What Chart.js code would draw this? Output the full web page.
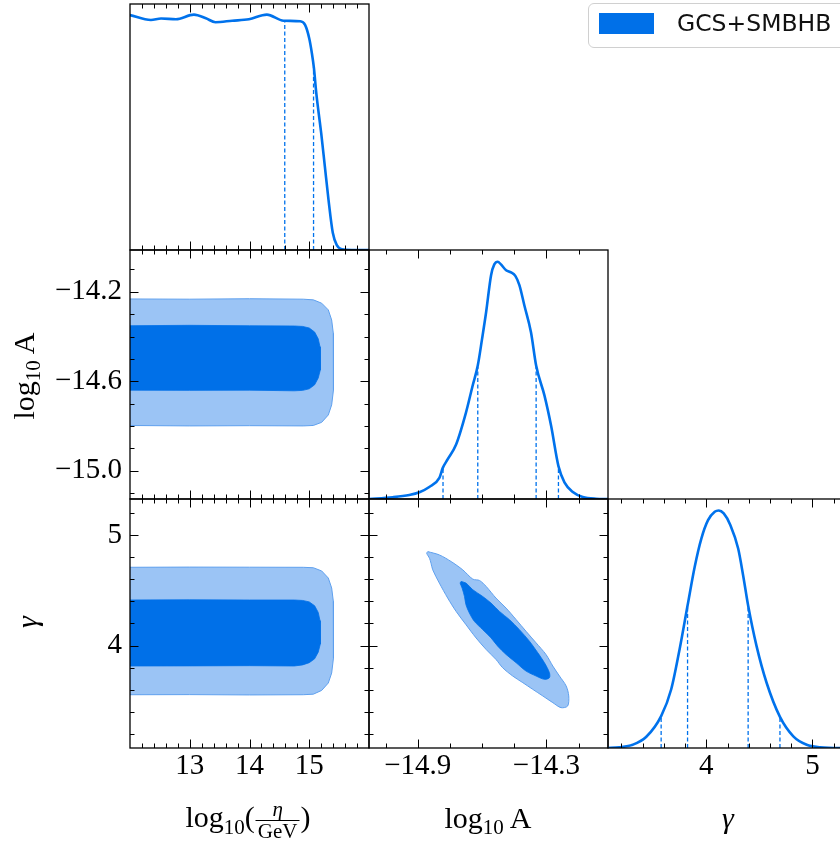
<!DOCTYPE html>
<html>
<head>
<meta charset="utf-8">
<script src="https://cdn.jsdelivr.net/npm/chart.js@4.4.1/dist/chart.umd.min.js"></script>
<style>
  html, body { margin: 0; padding: 0; background: #fff; width: 840px; height: 846px; overflow: hidden; }
  #wrap { position: relative; width: 840px; height: 846px; overflow: hidden; }
  canvas.panel { position: absolute; left: 0; top: 0; }
  .ttl { position: absolute; font-family: "Liberation Serif", serif; font-size: 30px; line-height: 30px; color: #000; white-space: nowrap; }
  .ttl sub { font-size: 0.7em; vertical-align: -0.3em; line-height: 0; }
  .frac { display: inline-block; vertical-align: middle; text-align: center; font-size: 0.7em; line-height: 1; margin: 0 1px; }
  .frac span { display: block; padding: 0 2px; }
  .frac .fn { border-bottom: 1.5px solid #000; }
  .rot { transform: translate(-50%, -50%) rotate(-90deg); }
  .legend { position: absolute; left: 588px; top: 3px; width: 270px; height: 43px; border: 1px solid #d0d0d0; border-radius: 6px; background: rgba(255,255,255,0.8); }
  .legend .patch { position: absolute; left: 10px; top: 9px; width: 55px; height: 21px; }
  .legend .txt { position: absolute; left: 88px; top: 8px; font-family: "DejaVu Sans", sans-serif; font-size: 23.5px; line-height: 23.5px; color: #111; }
</style>
</head>
<body>
<div id="wrap">
  <canvas id="p11" class="panel" width="880" height="846"></canvas>
  <canvas id="p21" class="panel" width="880" height="846"></canvas>
  <canvas id="p31" class="panel" width="880" height="846"></canvas>
  <canvas id="p22" class="panel" width="880" height="846"></canvas>
  <canvas id="p32" class="panel" width="880" height="846"></canvas>
  <canvas id="p33" class="panel" width="880" height="846"></canvas>

  <div class="legend"><div class="patch" id="legPatch"></div><div class="txt">GCS+SMBHB</div></div>

  <div class="ttl" style="left:248px; top:799px; transform:translateX(-50%);">log<sub>10</sub>(<span class="frac"><span class="fn"><i>η</i></span><span>GeV</span></span>)</div>
  <div class="ttl" style="left:488px; top:803px; transform:translateX(-50%);">log<sub>10</sub>&#8201;A</div>
  <div class="ttl" style="left:728px; top:803px; transform:translateX(-50%);"><i>γ</i></div>
  <div class="ttl rot" style="left:23.5px; top:376px;">log<sub>10</sub>&#8201;A</div>
  <div class="ttl rot" style="left:26.5px; top:622px;"><i>γ</i></div>
</div>

<script>
// ---- axis ranges and ticks ----
const etaRange = [12, 16];
const logARange = [-15.127, -14.013];
const gamRange = [3.073, 5.326];

const etaMajor = [13, 14, 15];
const etaMinor = [12.2, 12.4, 12.6, 12.8, 13.2, 13.4, 13.6, 13.8, 14.2, 14.4, 14.6, 14.8, 15.2, 15.4, 15.6, 15.8];
const logAMajorX = [-14.9, -14.3];
const logAMinorX = [-15.05, -14.75, -14.6, -14.45, -14.15];
const logAMajorY = [-15.0, -14.6, -14.2];
const logAMinorY = [-15.1, -14.9, -14.8, -14.7, -14.5, -14.4, -14.3, -14.1];
const gamMajor = [4, 5];
const gamMinor = [3.2, 3.4, 3.6, 3.8, 4.2, 4.4, 4.6, 4.8, 5.2];

// ---- 1D marginals ----
const etaX   = [12.0, 12.35, 12.52, 12.77, 13.07, 13.27, 13.43, 13.71, 13.99, 14.29, 14.57, 14.85, 14.93, 15.0, 15.044, 15.078, 15.117, 15.156, 15.2, 15.261, 15.322, 15.394, 15.461, 15.544, 15.711, 16.0];
const etaPdf = [0.955, 0.935, 0.941, 0.938, 0.957, 0.942, 0.926, 0.932, 0.938, 0.957, 0.932, 0.930, 0.915, 0.86, 0.80, 0.74, 0.64, 0.56, 0.475, 0.34, 0.205, 0.07, 0.02, 0.003, 0, 0];
const etaQ   = [14.59, 15.072];
const etaQH  = [0.932, 0.745];

const logAX   = [-15.13, -15.017, -14.939, -14.892, -14.846, -14.799, -14.783, -14.76, -14.721, -14.675, -14.644, -14.62, -14.6, -14.581, -14.558, -14.543, -14.527, -14.512, -14.488, -14.465, -14.445, -14.426, -14.403, -14.372, -14.348, -14.309, -14.278, -14.244, -14.216, -14.177, -14.131, -14.069, -14.013];
const logAPdf = [0, 0.007, 0.016, 0.027, 0.048, 0.085, 0.125, 0.16, 0.219, 0.347, 0.455, 0.536, 0.643, 0.751, 0.899, 0.942, 0.953, 0.942, 0.919, 0.910, 0.896, 0.859, 0.778, 0.670, 0.536, 0.415, 0.293, 0.132, 0.067, 0.028, 0.008, 0.001, 0];
const logAQ   = [-14.782, -14.62, -14.348, -14.244];
const logAQH  = [0.125, 0.53, 0.53, 0.132];

const gamX   = [3.06, 3.18, 3.306, 3.432, 3.574, 3.669, 3.748, 3.823, 3.890, 3.953, 4.016, 4.079, 4.117, 4.164, 4.227, 4.300, 4.347, 4.394, 4.473, 4.568, 4.694, 4.820, 4.946, 5.073, 5.262, 5.33];
const gamPdf = [0, 0.003, 0.013, 0.044, 0.128, 0.236, 0.397, 0.572, 0.727, 0.841, 0.915, 0.949, 0.954, 0.942, 0.895, 0.801, 0.693, 0.572, 0.41, 0.262, 0.125, 0.047, 0.013, 0.003, 0, 0];
const gamQ   = [3.574, 3.823, 4.394, 4.694];
const gamQH  = [0.128, 0.572, 0.572, 0.128];

// ---- 2D credible regions (outer = 95%, inner = 68%) ----
// log10(eta) vs log10 A
const etaA_outEta = [11.9, 13, 14, 14.9, 15.068, 15.208, 15.319, 15.375, 15.403, 15.408, 15.403, 15.375, 15.319, 15.208, 15.068, 14.9, 14, 13, 11.9, 11.9];
const etaA_outA   = [-14.232, -14.233, -14.231, -14.233, -14.236, -14.251, -14.281, -14.326, -14.386, -14.520, -14.639, -14.706, -14.751, -14.784, -14.798, -14.800, -14.799, -14.800, -14.798, -14.232];
const etaA_inEta  = [11.9, 13, 14, 14.75, 14.89, 15.0, 15.09, 15.15, 15.18, 15.19, 15.18, 15.15, 15.09, 15.0, 14.89, 14.75, 14, 13, 11.9, 11.9];
const etaA_inA    = [-14.352, -14.350, -14.352, -14.353, -14.355, -14.362, -14.380, -14.410, -14.446, -14.498, -14.550, -14.586, -14.616, -14.634, -14.641, -14.643, -14.640, -14.641, -14.640, -14.352];
// log10(eta) vs gamma
const etaG_outEta = [11.9, 13, 14, 14.9, 15.068, 15.208, 15.319, 15.375, 15.403, 15.408, 15.403, 15.375, 15.319, 15.208, 15.068, 14.9, 14, 13, 11.9, 11.9];
const etaG_outG   = [4.708, 4.710, 4.709, 4.708, 4.704, 4.675, 4.611, 4.521, 4.400, 4.129, 3.887, 3.751, 3.661, 3.594, 3.560, 3.555, 3.553, 3.556, 3.555, 4.708];
const etaG_inEta  = [11.9, 13, 14, 14.75, 14.89, 15.0, 15.09, 15.15, 15.18, 15.19, 15.18, 15.15, 15.09, 15.0, 14.89, 14.75, 14, 13, 11.9, 11.9];
const etaG_inG    = [4.412, 4.414, 4.412, 4.412, 4.408, 4.395, 4.360, 4.300, 4.225, 4.120, 4.014, 3.940, 3.880, 3.845, 3.825, 3.815, 3.818, 3.816, 3.815, 4.412];
// log10 A vs gamma
const AG_outA = [-14.853, -14.799, -14.744, -14.690, -14.643, -14.612, -14.581, -14.535, -14.488, -14.441, -14.395, -14.348, -14.302, -14.270, -14.239, -14.208, -14.196, -14.201, -14.232, -14.270, -14.317, -14.364, -14.410, -14.457, -14.504, -14.535, -14.581, -14.628, -14.675, -14.721, -14.760, -14.799, -14.830, -14.838, -14.845, -14.858, -14.853];
const AG_outG = [4.850, 4.820, 4.760, 4.685, 4.601, 4.589, 4.535, 4.429, 4.339, 4.234, 4.129, 4.024, 3.919, 3.814, 3.724, 3.634, 3.544, 3.453, 3.438, 3.483, 3.544, 3.604, 3.664, 3.724, 3.799, 3.874, 3.964, 4.069, 4.189, 4.309, 4.429, 4.565, 4.685, 4.745, 4.790, 4.835, 4.850];
const AG_inA  = [-14.698, -14.675, -14.643, -14.597, -14.558, -14.519, -14.472, -14.426, -14.379, -14.340, -14.309, -14.286, -14.286, -14.309, -14.348, -14.395, -14.441, -14.488, -14.527, -14.558, -14.597, -14.636, -14.659, -14.675, -14.682, -14.693, -14.702, -14.698];
const AG_inG  = [4.580, 4.565, 4.505, 4.444, 4.384, 4.309, 4.234, 4.144, 4.039, 3.934, 3.844, 3.754, 3.709, 3.694, 3.724, 3.769, 3.844, 3.919, 3.994, 4.069, 4.144, 4.219, 4.294, 4.369, 4.444, 4.520, 4.565, 4.580];

// ---- styling ----
const lineBlue = 'rgb(0, 114, 236)';
const darkFill = 'rgb(0, 112, 232)';
const lightFill = 'rgb(155, 196, 245)';
const lightEdge = 'rgb(95, 160, 238)';
document.getElementById('legPatch').style.background = darkFill;

const W = 880, H = 846;
const colL = [130, 369, 608, 847];
const rowT = [4, 250, 499, 748];
const tickFont = { family: 'Liberation Serif', size: 29 };
const XLAB_H = 70, YLAB_W = 125;   // room kept for tick labels outside the panel

const pts = (xs, ys) => xs.map((x, i) => ({ x: x, y: ys[i] }));
const fmtInt = v => String(Math.round(v));
const fmtDec = v => (v < 0 ? '\u2212' : '') + Math.abs(v).toFixed(1);

function curveSet(xs, ys) {
  return { data: pts(xs, ys), borderColor: lineBlue, borderWidth: 2.6, cubicInterpolationMode: 'monotone', fill: false, pointRadius: 0 };
}
function quantSets(qs, hs) {
  return qs.map((q, i) => ({ data: [{ x: q, y: 0 }, { x: q, y: hs[i] }], borderColor: lineBlue, borderWidth: 1.3, borderDash: [4, 2.5], fill: false, pointRadius: 0 }));
}
// first dataset is painted on top in Chart.js, so the inner region goes first
function regionSets(ox, oy, ix, iy, tension) {
  return [
    { data: pts(ix, iy), borderColor: darkFill, borderWidth: 0.8, backgroundColor: darkFill, fill: 'shape', tension: tension, pointRadius: 0 },
    { data: pts(ox, oy), borderColor: lightEdge, borderWidth: 1, backgroundColor: lightFill, fill: 'shape', tension: tension, pointRadius: 0 }
  ];
}

// frame with inward ticks on all sides, like the matplotlib corner plot
const frameTicks = {
  id: 'frameTicks',
  afterDatasetsDraw(chart, args, opts) {
    const { ctx, chartArea: a } = chart;
    const xs = chart.scales.x, ys = chart.scales.y;
    ctx.save();
    ctx.strokeStyle = '#000';
    ctx.lineWidth = 1;
    ctx.beginPath();
    const tx = (v, len) => {
      const p = Math.round(xs.getPixelForValue(v)) + 0.5;
      ctx.moveTo(p, a.bottom); ctx.lineTo(p, a.bottom - len);
      ctx.moveTo(p, a.top); ctx.lineTo(p, a.top + len);
    };
    const ty = (v, len) => {
      const p = Math.round(ys.getPixelForValue(v)) + 0.5;
      ctx.moveTo(a.left, p); ctx.lineTo(a.left + len, p);
      ctx.moveTo(a.right, p); ctx.lineTo(a.right - len, p);
    };
    if (opts.xt) { opts.xt.minor.forEach(v => tx(v, 4.5)); opts.xt.major.forEach(v => tx(v, 8.5)); }
    if (opts.yt) { opts.yt.minor.forEach(v => ty(v, 4.5)); opts.yt.major.forEach(v => ty(v, 8.5)); }
    ctx.stroke();
    ctx.lineWidth = 1.3;
    ctx.strokeRect(a.left, a.top, a.right - a.left, a.bottom - a.top);
    ctx.restore();
  }
};

function panel(id, col, row, xr, yr, xt, yt, fmtX, fmtY, showX, showY, datasets) {
  const zeroPad = s => { s.paddingLeft = 0; s.paddingRight = 0; s.paddingTop = 0; s.paddingBottom = 0; };
  const xh = showX ? XLAB_H : 0, yw = showY ? YLAB_W : 0;
  return new Chart(document.getElementById(id), {
    type: 'line',
    data: { datasets: datasets },
    options: {
      responsive: false,
      animation: false,
      events: [],
      layout: { padding: { left: colL[col] - yw, right: W - colL[col + 1], top: rowT[row], bottom: H - rowT[row + 1] - xh } },
      plugins: { legend: { display: false }, tooltip: { enabled: false }, frameTicks: { xt: xt, yt: yt } },
      scales: {
        x: {
          type: 'linear', min: xr[0], max: xr[1], position: 'bottom',
          grid: { display: false, drawTicks: false }, border: { display: false },
          ticks: { display: showX, autoSkip: false, maxRotation: 0, padding: 1, color: '#000', font: tickFont, callback: v => fmtX(v) },
          afterBuildTicks: s => { s.ticks = xt.major.map(v => ({ value: v })); },
          afterFit: s => { s.height = xh; zeroPad(s); }
        },
        y: {
          type: 'linear', min: yr[0], max: yr[1], position: 'left',
          grid: { display: false, drawTicks: false }, border: { display: false },
          ticks: { display: showY, autoSkip: false, padding: 8, color: '#000', font: tickFont, callback: v => fmtY(v) },
          afterBuildTicks: s => { s.ticks = yt ? yt.major.map(v => ({ value: v })) : []; },
          afterFit: s => { s.width = yw; zeroPad(s); }
        }
      }
    },
    plugins: [frameTicks]
  });
}

const etaT  = { major: etaMajor, minor: etaMinor };
const logAXT = { major: logAMajorX, minor: logAMinorX };
const logAYT = { major: logAMajorY, minor: logAMinorY };
const gamT  = { major: gamMajor, minor: gamMinor };

panel('p11', 0, 0, etaRange, [0, 1], etaT, null, fmtInt, fmtInt, false, false,
  [curveSet(etaX, etaPdf)].concat(quantSets(etaQ, etaQH)));
panel('p21', 0, 1, etaRange, logARange, etaT, logAYT, fmtInt, fmtDec, false, true,
  regionSets(etaA_outEta, etaA_outA, etaA_inEta, etaA_inA, 0));
panel('p31', 0, 2, etaRange, gamRange, etaT, gamT, fmtInt, fmtInt, true, true,
  regionSets(etaG_outEta, etaG_outG, etaG_inEta, etaG_inG, 0));
panel('p22', 1, 1, logARange, [0, 1], logAXT, null, fmtDec, fmtInt, false, false,
  [curveSet(logAX, logAPdf)].concat(quantSets(logAQ, logAQH)));
panel('p32', 1, 2, logARange, gamRange, logAXT, gamT, fmtDec, fmtInt, true, false,
  regionSets(AG_outA, AG_outG, AG_inA, AG_inG, 0.3));
panel('p33', 2, 2, gamRange, [0, 1], gamT, null, fmtInt, fmtInt, true, false,
  [curveSet(gamX, gamPdf)].concat(quantSets(gamQ, gamQH)));
</script>
</body>
</html>
